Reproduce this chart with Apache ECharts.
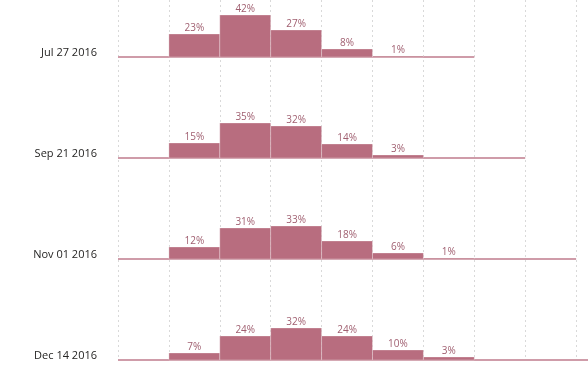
<!DOCTYPE html>
<html><head><meta charset="utf-8">
<script src="https://cdn.jsdelivr.net/npm/echarts@6/dist/echarts.min.js"></script>
<style>html,body{margin:0;padding:0;background:#fff;overflow:hidden}#c{width:628px;height:386px}</style>
</head><body><div id="c"></div>
<script>
// Row labels (dates) and histogram values (%) per bin
const rowLabels = ['Jul 27 2016', 'Sep 21 2016', 'Nov 01 2016', 'Dec 14 2016'];
const julValues = [0, 23, 42, 27, 8, 1, 0];
const sepValues = [0, 15, 35, 32, 14, 3, 0, 0];
const novValues = [0, 12, 31, 33, 18, 6, 1, 0, 0];
const decValues = [0, 7, 24, 32, 24, 10, 3, 0, 0, 0];
const rows = [julValues, sepValues, novValues, decValues];

const ROW_GAP = 101;
const offsets = rows.map((r, i) => (rows.length - 1 - i) * ROW_GAP);
const BAR = '#b86d7f', LABEL = '#a05f70', BASE = '#cf9ca9';
const FONT = '"Open Sans", "Noto Sans", sans-serif';

function barRender(off) {
  return function (params, api) {
    const j = api.value(0), v = api.value(1);
    if (!(v > 0)) return { type: 'group', children: [] };
    const p0 = api.coord([j, off]);
    const p1 = api.coord([j + 1, off + v]);
    return {
      type: 'group',
      children: [
        { type: 'rect', shape: { x: p0[0], y: p1[1], width: p1[0] - p0[0], height: p0[1] - p1[1] },
          style: { fill: BAR, stroke: 'rgba(255,255,255,0.28)', lineWidth: 1 } },
        { type: 'text', style: { text: v + '%', x: (p0[0] + p1[0]) / 2, y: p1[1] - 1,
          align: 'center', verticalAlign: 'bottom', fill: LABEL, font: '10px ' + FONT } }
      ]
    };
  };
}

const series = [];
rows.forEach((vals, i) => {
  const off = offsets[i];
  series.push({
    type: 'line', data: [[0, off], [vals.length, off]], symbol: 'none', silent: true,
    lineStyle: { color: BASE, width: 2 }, z: 1, animation: false
  });
  series.push({
    type: 'custom', data: vals.map((v, j) => [j, v]), renderItem: barRender(off), z: 2, animation: false
  });
});
series.push({
  type: 'custom', data: rowLabels.map((l, i) => [0, offsets[i]]), animation: false,
  renderItem: function (params, api) {
    const p = api.coord([api.value(0), api.value(1)]);
    return { type: 'text', style: { text: rowLabels[params.dataIndex], x: p[0] - 21, y: p[1] - 4,
      align: 'right', verticalAlign: 'middle', fill: '#252423', font: '11px ' + FONT } };
  }
});

const chart = echarts.init(document.getElementById('c'));
chart.setOption({
  animation: false,
  grid: { left: 118, right: 1, top: 0, bottom: 26 },
  xAxis: { type: 'value', min: 0, max: 10, interval: 1,
    axisLabel: { show: false }, axisLine: { show: false }, axisTick: { show: false },
    splitLine: { show: true, lineStyle: { color: '#d9d9d9', type: [2, 3], width: 1 } } },
  yAxis: { type: 'value', min: 0, max: 360, show: false, splitLine: { show: false } },
  series: series
});
</script></body></html>
